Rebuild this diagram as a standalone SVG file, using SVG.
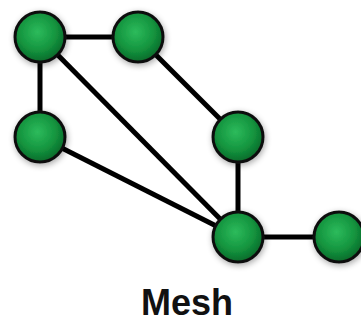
<svg xmlns="http://www.w3.org/2000/svg" width="361" height="324" viewBox="0 0 361 324">
<defs>
<radialGradient id="g" cx="0.45" cy="0.4" r="0.6">
<stop offset="0" stop-color="#2dbb5c"/>
<stop offset="0.6" stop-color="#14953f"/>
<stop offset="1" stop-color="#0a6a2a"/>
</radialGradient>
<filter id="sh" x="-50%" y="-50%" width="200%" height="200%">
<feGaussianBlur in="SourceAlpha" stdDeviation="3"/>
<feOffset dx="1" dy="2" result="b"/>
<feComponentTransfer><feFuncA type="linear" slope="0.35"/></feComponentTransfer>
<feMerge><feMergeNode/><feMergeNode in="SourceGraphic"/></feMerge>
</filter>
</defs>
<style>
.e{stroke:#000;stroke-width:5;fill:none}
.n{fill:url(#g);stroke:#111;stroke-width:3;filter:url(#sh)}
.t{font-family:"Liberation Sans",Arial,sans-serif;font-weight:bold;font-size:36px;fill:#111}
</style>
<rect width="361" height="324" fill="#fff"/>
<g id="edges">
<line class="e" x1="40" y1="37" x2="138" y2="37"/>
<line class="e" x1="40" y1="37" x2="40" y2="137"/>
<line class="e" x1="40" y1="37" x2="238" y2="237"/>
<line class="e" x1="138" y1="37" x2="238" y2="137"/>
<line class="e" x1="40" y1="137" x2="238" y2="237"/>
<line class="e" x1="238" y1="137" x2="238" y2="237"/>
<line class="e" x1="238" y1="237" x2="339" y2="237"/>
</g>
<g id="n1"><circle class="n" cx="40" cy="37" r="25"/></g>
<g id="n2"><circle class="n" cx="138" cy="37" r="25"/></g>
<g id="n3"><circle class="n" cx="40" cy="137" r="25"/></g>
<g id="n4"><circle class="n" cx="238" cy="137" r="25"/></g>
<g id="n5"><circle class="n" cx="238" cy="237" r="25"/></g>
<g id="n6"><circle class="n" cx="339" cy="237" r="25"/></g>
<g id="label"><text class="t" x="187" y="315" text-anchor="middle">Mesh</text></g>
</svg>
